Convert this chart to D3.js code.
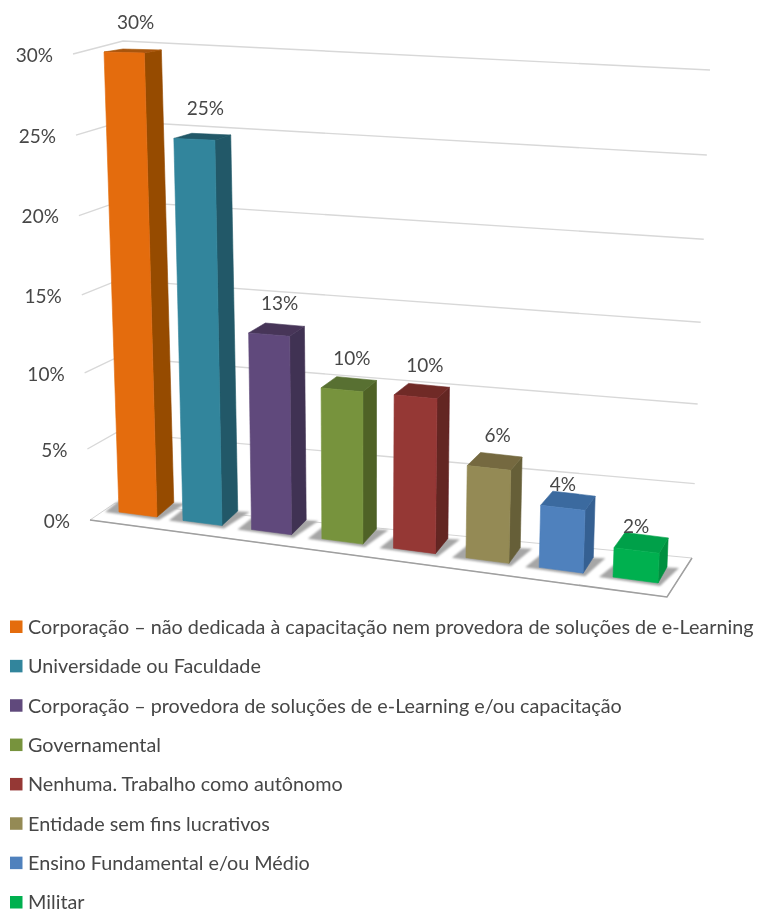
<!doctype html>
<html>
<head>
    <meta charset="utf-8">
    <script src="https://d3js.org/d3.v7.min.js"></script>
    <style>
        html, body { margin: 0; background: #fff; }
        svg { display: block; }
        text { font-family: Lato, "Open Sans", sans-serif; fill: #464646; }
    </style>
</head>
<body>
    <svg width="758" height="914"></svg>
    <script>
        const categories = [
            "Corporação – não dedicada à capacitação nem provedora de soluções de e-Learning",
            "Universidade ou Faculdade",
            "Corporação – provedora de soluções de e-Learning e/ou capacitação",
            "Governamental",
            "Nenhuma. Trabalho como autônomo",
            "Entidade sem fins lucrativos",
            "Ensino Fundamental e/ou Médio",
            "Militar"
        ];
        const values = [30, 25, 13.2, 10.2, 10.3, 6.3, 4.3, 2.1];
        const ticks = [0, 5, 10, 15, 20, 25, 30];
        const frontColors = ["#E46C0A", "#31859C", "#604A7B", "#77933C", "#953735", "#948A54", "#4F81BD", "#00B050"];
        const sideColors = ["#964B06", "#215968", "#403152", "#4F6228", "#632523", "#665F39", "#366092", "#009040"];
        const topColors = ["#A85408", "#205867", "#463659", "#587030", "#702A28", "#74693F", "#3A6A9F", "#00A048"];

        const svg = d3.select("svg");
        const chart = svg.append("g");

        // the 3d look is only a bunch of scales fitted by eye
        const frac = d3.scalePow().exponent(1.05).domain([0, 30]).range([0, 1]);
        const along = (a, b, v) => a + (b - a) * frac(v);

        // walls: front-left edge, back-left edge, back-right edge
        const frontX = v => along(90, 73, v), frontY = v => along(520, 54, v);
        const backLX = v => along(115, 123, v), backLY = v => along(503, 41, v);
        const backRX = v => along(692, 710, v), backRY = v => along(558, 70, v);

        // bars
        const centerX = d3.scalePow().exponent(1.05).domain([0, categories.length - 1]).range([138, 635.5]);
        const barWidth = d3.scaleLinear().domain([0, categories.length - 1]).range([38, 45]);
        const floorY = d3.scaleLinear().domain([119, 658]).range([512, 583]);
        const fullHeight = d3.scaleLinear().domain([119, 658]).range([460, 482]);
        const topSlope = d3.scaleLinear().domain([0, 30]).range([0.13, 0.025]);
        const depthX = d3.scaleLinear().domain([143, 658]).range([17, 9]);
        const depthY = d3.scaleLinear().domain([52, 582]).range([-3, -16]);

        const up = (x, h) => x + (x - 360) * h / 7400;
        const depth = p => [p[0] + depthX(p[0]), p[1] + depthY(p[1])];
        const poly = pts => "M" + pts.map(p => p.join(",")).join("L") + "Z";

        const defs = svg.append("defs");
        defs.append("filter").attr("id", "soft").append("feGaussianBlur").attr("stdDeviation", 0.55);
        defs.append("filter").attr("id", "shade")
            .attr("x", "-20%").attr("y", "-40%").attr("width", "140%").attr("height", "180%")
            .append("feGaussianBlur").attr("stdDeviation", 1.3);
        chart.attr("filter", "url(#soft)");

        // gridlines
        chart.append("g").selectAll("path").data(ticks.filter(d => d > 0)).join("path")
            .attr("d", d => `M${frontX(d)},${frontY(d)}L${backLX(d)},${backLY(d)}L${backRX(d)},${backRY(d)}`)
            .attr("fill", "none")
            .attr("stroke", "#d8d8d8")
            .attr("stroke-width", 1.4);

        // floor
        const floor = [[frontX(0), frontY(0)], [backLX(0), backLY(0)], [backRX(0), backRY(0)], [667, 597]];
        chart.append("path").attr("d", poly(floor))
            .attr("fill", "#fff").attr("stroke", "#d4d4d4").attr("stroke-width", 1);
        chart.append("path")
            .attr("d", `M${floor[0]}L${floor[3]}L${floor[2]}`)
            .attr("fill", "none").attr("stroke", "#a0a0a0").attr("stroke-width", 1.5);

        const bars = categories.map((c, i) => {
            const w = barWidth(i);
            const xL = centerX(i) - w / 2, xR = centerX(i) + w / 2;
            const hL = frac(values[i]) * fullHeight(xL);
            const tL = [up(xL, hL), floorY(xL) - hL];
            const xTR = up(xR, hL);
            const tR = [xTR, tL[1] + (xTR - tL[0]) * topSlope(values[i])];
            return {
                i, v: values[i], tL, tR,
                bL: [xL, floorY(xL)], bR: [xR, floorY(xR)]
            };
        });

        // shadows on the floor
        chart.append("g").attr("filter", "url(#shade)").selectAll("path").data(bars).join("path")
            .attr("d", d => {
                const b = depth(d.bR);
                return poly([
                    [d.bL[0] - 14, d.bL[1]],
                    [d.bL[0] + 1, d.bL[1] - 12],
                    [b[0] + 12, b[1] + 1],
                    [d.bR[0] + 2, d.bR[1] + 3]
                ]);
            })
            .attr("fill", "#a6a6a6");

        const bar = chart.append("g").selectAll("g").data(bars).join("g");
        bar.append("path")
            .attr("d", d => poly([d.tR, depth(d.tR), depth(d.bR), d.bR]))
            .attr("fill", d => sideColors[d.i]).attr("stroke", d => sideColors[d.i]).attr("stroke-width", 0.6);
        bar.append("path")
            .attr("d", d => poly([d.tL, [d.tL[0] + depthX(d.tR[0]) + 2, d.tL[1] + depthY(d.tL[1])], depth(d.tR), d.tR]))
            .attr("fill", d => topColors[d.i]).attr("stroke", d => topColors[d.i]).attr("stroke-width", 0.6);
        bar.append("path")
            .attr("d", d => poly([d.tL, d.tR, d.bR, d.bL]))
            .attr("fill", d => frontColors[d.i]).attr("stroke", d => frontColors[d.i]).attr("stroke-width", 0.6);

        // value labels, the two small bars have them sitting almost on the bar
        const labelFormat = d => Math.round(d) + "%";
        chart.append("g").selectAll("text").data(bars).join("text")
            .attr("x", d => (d.tL[0] + depth(d.tR)[0]) / 2 + (d.v < 5 ? -5 : 3))
            .attr("y", d => depth(d.tR)[1] - (d.v < 5 ? 5 : 15 + Math.max(0, d.v - 10) * 0.3))
            .attr("text-anchor", "middle")
            .attr("font-size", 19)
            .text(d => labelFormat(d.v));

        // y axis, each tick pushed along the leaning front edge
        const yAxis = d3.axisLeft(d3.scaleLinear().domain([0, 30]).range([0, 1]))
            .tickValues(ticks).tickSize(0).tickFormat(d => d + "%");
        const axisG = chart.append("g").call(yAxis);
        axisG.select(".domain").remove();
        axisG.selectAll(".tick")
            .attr("transform", d => `translate(${frontX(d) - 20},${frontY(d) + 1})`);
        axisG.selectAll("text").attr("x", 0).attr("dy", "0.35em")
            .attr("font-size", 19);
        axisG.attr("font-family", null);

        // legend
        const legendY = d3.scalePoint().domain(categories).range([627, 902.5]);
        const legend = chart.append("g").selectAll("g").data(categories).join("g")
            .attr("transform", d => `translate(0,${legendY(d)})`);
        legend.append("rect")
            .attr("x", 10).attr("y", -6.5).attr("width", 12.5).attr("height", 12.5)
            .attr("fill", (d, i) => frontColors[i]);
        legend.append("text")
            .attr("x", 28).attr("dy", "0.35em")
            .attr("font-size", 19.8)
            .text(d => d);
    </script>
</body>
</html>
